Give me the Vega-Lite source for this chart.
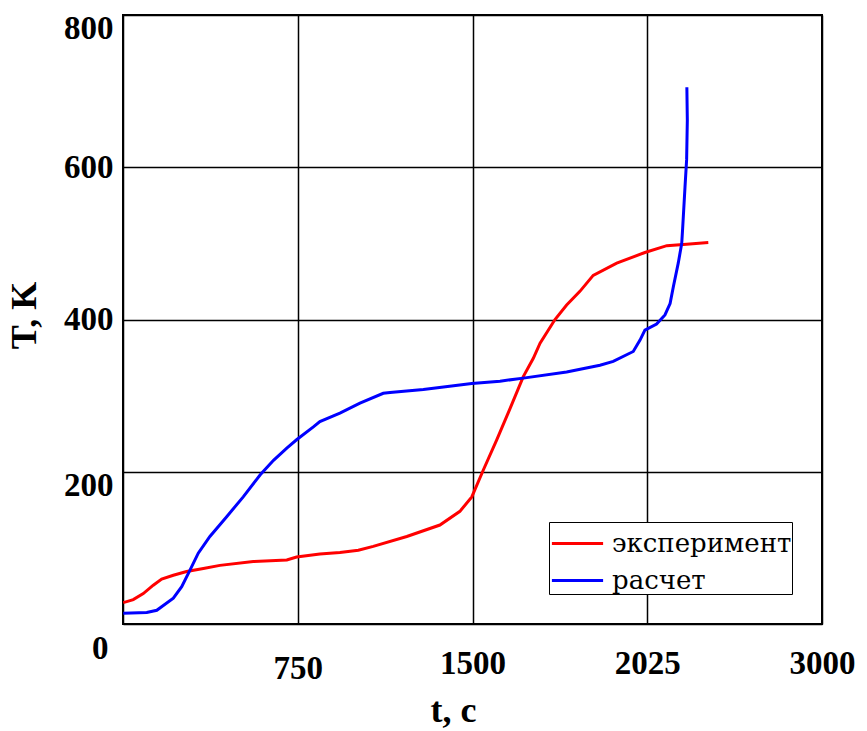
{
  "$schema": "https://vega.github.io/schema/vega-lite/v6.json",
  "width": 699,
  "height": 609,
  "autosize": {"type": "none"},
  "padding": {"left": 123, "top": 15, "right": 45, "bottom": 107},
  "background": "white",
  "config": {
    "view": {"stroke": "black", "strokeWidth": 2},
    "font": "Liberation Serif"
  },
  "data": {
    "values": [
      {"s": "эксперимент", "i": 1, "t": 1, "T": 28},
      {"s": "эксперимент", "i": 2, "t": 44, "T": 32},
      {"s": "эксперимент", "i": 3, "t": 87, "T": 40},
      {"s": "эксперимент", "i": 4, "t": 130, "T": 51},
      {"s": "эксперимент", "i": 5, "t": 166, "T": 59},
      {"s": "эксперимент", "i": 6, "t": 216, "T": 64},
      {"s": "эксперимент", "i": 7, "t": 273, "T": 69},
      {"s": "эксперимент", "i": 8, "t": 345, "T": 73},
      {"s": "эксперимент", "i": 9, "t": 416, "T": 77},
      {"s": "эксперимент", "i": 10, "t": 559, "T": 82},
      {"s": "эксперимент", "i": 11, "t": 703, "T": 84},
      {"s": "эксперимент", "i": 12, "t": 745, "T": 88},
      {"s": "эксперимент", "i": 13, "t": 845, "T": 92},
      {"s": "эксперимент", "i": 14, "t": 931, "T": 94},
      {"s": "эксперимент", "i": 15, "t": 1010, "T": 97},
      {"s": "эксперимент", "i": 16, "t": 1074, "T": 102},
      {"s": "эксперимент", "i": 17, "t": 1218, "T": 115},
      {"s": "эксперимент", "i": 18, "t": 1360, "T": 130},
      {"s": "эксперимент", "i": 19, "t": 1446, "T": 148},
      {"s": "эксперимент", "i": 20, "t": 1497, "T": 167},
      {"s": "эксперимент", "i": 21, "t": 1546, "T": 202},
      {"s": "эксперимент", "i": 22, "t": 1604, "T": 242},
      {"s": "эксперимент", "i": 23, "t": 1661, "T": 283},
      {"s": "эксперимент", "i": 24, "t": 1718, "T": 325},
      {"s": "эксперимент", "i": 25, "t": 1761, "T": 349},
      {"s": "эксперимент", "i": 26, "t": 1790, "T": 369},
      {"s": "эксперимент", "i": 27, "t": 1854, "T": 400},
      {"s": "эксперимент", "i": 28, "t": 1904, "T": 419},
      {"s": "эксперимент", "i": 29, "t": 1961, "T": 437},
      {"s": "эксперимент", "i": 30, "t": 2018, "T": 458},
      {"s": "эксперимент", "i": 31, "t": 2119, "T": 474},
      {"s": "эксперимент", "i": 32, "t": 2240, "T": 488},
      {"s": "эксперимент", "i": 33, "t": 2334, "T": 497},
      {"s": "эксперимент", "i": 34, "t": 2419, "T": 499},
      {"s": "эксперимент", "i": 35, "t": 2512, "T": 501},
      {"s": "расчет", "i": 1, "t": 1, "T": 14},
      {"s": "расчет", "i": 2, "t": 102, "T": 15},
      {"s": "расчет", "i": 3, "t": 145, "T": 18},
      {"s": "расчет", "i": 4, "t": 216, "T": 34},
      {"s": "расчет", "i": 5, "t": 252, "T": 49},
      {"s": "расчет", "i": 6, "t": 288, "T": 71},
      {"s": "расчет", "i": 7, "t": 323, "T": 93},
      {"s": "расчет", "i": 8, "t": 373, "T": 115},
      {"s": "расчет", "i": 9, "t": 445, "T": 141},
      {"s": "расчет", "i": 10, "t": 516, "T": 167},
      {"s": "расчет", "i": 11, "t": 589, "T": 196},
      {"s": "расчет", "i": 12, "t": 646, "T": 215},
      {"s": "расчет", "i": 13, "t": 703, "T": 231},
      {"s": "расчет", "i": 14, "t": 745, "T": 242},
      {"s": "расчет", "i": 15, "t": 817, "T": 259},
      {"s": "расчет", "i": 16, "t": 845, "T": 266},
      {"s": "расчет", "i": 17, "t": 931, "T": 277},
      {"s": "расчет", "i": 18, "t": 1017, "T": 290},
      {"s": "расчет", "i": 19, "t": 1117, "T": 303},
      {"s": "расчет", "i": 20, "t": 1146, "T": 304},
      {"s": "расчет", "i": 21, "t": 1289, "T": 308},
      {"s": "расчет", "i": 22, "t": 1497, "T": 316},
      {"s": "расчет", "i": 23, "t": 1618, "T": 319},
      {"s": "расчет", "i": 24, "t": 1718, "T": 323},
      {"s": "расчет", "i": 25, "t": 1904, "T": 331},
      {"s": "расчет", "i": 26, "t": 2047, "T": 340},
      {"s": "расчет", "i": 27, "t": 2104, "T": 345},
      {"s": "расчет", "i": 28, "t": 2190, "T": 358},
      {"s": "расчет", "i": 29, "t": 2219, "T": 373},
      {"s": "расчет", "i": 30, "t": 2240, "T": 386},
      {"s": "расчет", "i": 31, "t": 2290, "T": 394},
      {"s": "расчет", "i": 32, "t": 2326, "T": 406},
      {"s": "расчет", "i": 33, "t": 2348, "T": 421},
      {"s": "расчет", "i": 34, "t": 2362, "T": 443},
      {"s": "расчет", "i": 35, "t": 2383, "T": 474},
      {"s": "расчет", "i": 36, "t": 2398, "T": 500},
      {"s": "расчет", "i": 37, "t": 2402, "T": 520},
      {"s": "расчет", "i": 38, "t": 2412, "T": 574},
      {"s": "расчет", "i": 39, "t": 2419, "T": 610},
      {"s": "расчет", "i": 40, "t": 2422, "T": 662},
      {"s": "расчет", "i": 41, "t": 2420, "T": 705}
    ]
  },
  "mark": {"type": "line", "strokeWidth": 3, "clip": true},
  "encoding": {
    "x": {
      "field": "t",
      "type": "quantitative",
      "scale": {"domain": [0, 3000], "nice": false, "zero": false},
      "axis": {
        "title": "t, с",
        "titleFont": "Liberation Serif, DejaVu Serif",
        "titleFontSize": 36,
        "titleFontWeight": "bold",
        "titleColor": "black",
        "titleX": 330,
        "titleY": 86,
        "titleBaseline": "middle",
        "titleAlign": "center",
        "values": [0, 750, 1500, 2250, 3000],
        "labelExpr": "datum.value == 0 ? '' : datum.value == 2250 ? '2025' : '' + datum.value",
        "labelFont": "Liberation Serif",
        "labelFontSize": 33,
        "labelFontWeight": "bold",
        "labelColor": "black",
        "labelBaseline": "middle",
        "labelFlush": false,
        "labelOverlap": false,
        "labelPadding": {
          "condition": {"test": "datum.value == 750", "value": 44},
          "value": 39
        },
        "ticks": false,
        "domain": false,
        "grid": true,
        "gridColor": "black",
        "gridWidth": 1.5,
        "gridOpacity": 1
      }
    },
    "y": {
      "field": "T",
      "type": "quantitative",
      "scale": {"domain": [0, 800], "nice": false},
      "axis": {
        "title": "T, K",
        "titleFont": "Liberation Serif",
        "titleFontSize": 36,
        "titleFontWeight": "bold",
        "titleColor": "black",
        "titleX": -99,
        "titleY": 300,
        "titleAngle": 270,
        "titleBaseline": "middle",
        "titleAlign": "center",
        "values": [0, 200, 400, 600, 800],
        "labelFont": "Liberation Serif",
        "labelFontSize": 33,
        "labelFontWeight": "bold",
        "labelColor": "black",
        "labelBaseline": "middle",
        "labelFlush": false,
        "labelOverlap": false,
        "labelPadding": {
          "condition": {"test": "datum.value == 0", "value": 15},
          "value": 10
        },
        "labelOffset": {
          "condition": {"test": "datum.value == 0 || datum.value == 200 || datum.value == 800", "expr": "datum.value == 0 ? 24 : datum.value == 200 ? 14 : 13"},
          "value": 0
        },
        "ticks": false,
        "domain": false,
        "grid": true,
        "gridColor": "black",
        "gridWidth": 1.5,
        "gridOpacity": 1
      }
    },
    "color": {
      "field": "s",
      "type": "nominal",
      "scale": {"domain": ["эксперимент", "расчет"], "range": ["#ff0000", "#0000ff"]},
      "legend": {
        "title": null,
        "orient": "none",
        "legendX": 426,
        "legendY": 507,
        "fillColor": "white",
        "strokeColor": "black",
        "cornerRadius": 0,
        "padding": 0,
        "rowPadding": 2,
        "symbolType": "M-1.28,0H1.28",
        "symbolSize": 1600,
        "symbolOffset": 7,
        "symbolStrokeWidth": 3,
        "labelFont": "DejaVu Serif",
        "labelFontSize": 26,
        "labelColor": "black",
        "labelOffset": 13,
        "labelLimit": 400,
        "labelExpr": "datum.label + '    '"
      }
    },
    "order": {"field": "i", "type": "quantitative"}
  }
}
